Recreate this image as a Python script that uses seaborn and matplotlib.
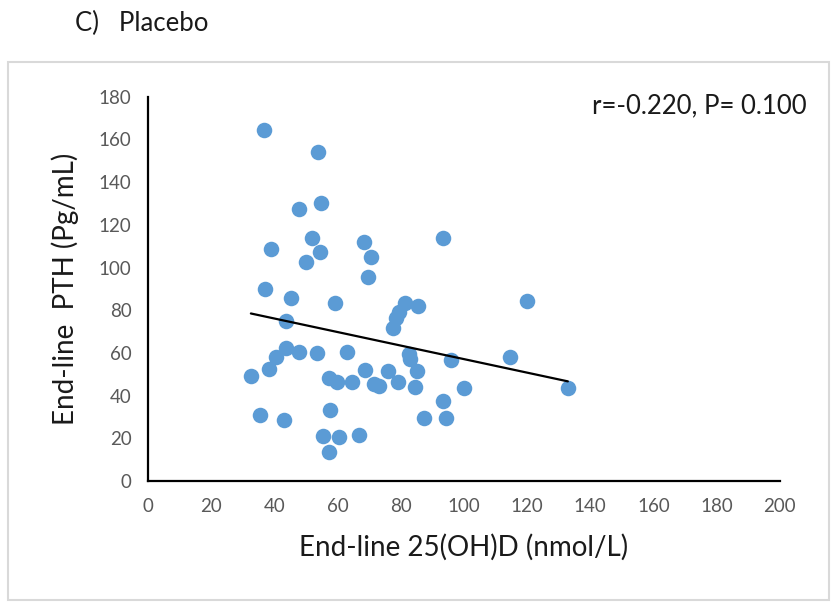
import matplotlib
matplotlib.use("Agg")
import matplotlib.pyplot as plt
import seaborn as sns
import pandas as pd
from matplotlib.patches import Rectangle

# End-line 25(OH)D (nmol/L)
vitd = [36.6, 53.7, 47.6, 54.8, 52.0, 39.0, 54.4, 50.1, 68.3, 70.4,
        69.5, 93.4, 37.0, 45.1, 59.0, 81.3, 85.3, 79.5, 78.4, 77.6,
        119.9, 43.5, 43.5, 40.6, 38.2, 32.5, 47.6, 53.3, 62.9, 82.6,
        83.0, 85.1, 84.5, 68.7, 76.0, 79.0, 71.6, 73.0, 57.2, 59.7,
        64.6, 95.9, 114.6, 99.9, 93.4, 87.2, 94.3, 132.9, 35.3, 43.1,
        57.7, 55.3, 60.5, 66.6, 57.2]
# End-line PTH (Pg/mL)
pth = [164.5, 154.3, 127.3, 130.3, 114.0, 108.7, 107.3, 102.4, 112.0, 104.9,
       95.4, 114.0, 89.9, 85.5, 83.6, 83.2, 82.2, 79.1, 76.5, 71.9,
       84.1, 74.9, 62.5, 57.9, 52.5, 49.0, 60.4, 59.9, 60.5, 59.5,
       57.2, 51.7, 44.1, 52.2, 51.7, 46.5, 45.3, 44.6, 48.4, 46.5,
       46.5, 56.9, 58.1, 43.7, 37.6, 29.7, 29.7, 43.6, 31.0, 28.7,
       33.4, 21.3, 20.8, 21.5, 13.5]

x_ticks = [0, 20, 40, 60, 80, 100, 120, 140, 160, 180, 200]
y_ticks = [0, 20, 40, 60, 80, 100, 120, 140, 160, 180]

title = "C)   Placebo"
x_label = "End-line 25(OH)D (nmol/L)"
y_label = "End-line  PTH (Pg/mL)"
stats_text = "r=-0.220, P= 0.100"

df = pd.DataFrame({"vitd": vitd, "pth": pth})

sns.set_style("white")
plt.rcParams["font.family"] = ["Lato", "DejaVu Sans"]

fig = plt.figure(figsize=(8.33, 6.05), dpi=100)
ax = fig.add_axes([0.178, 0.205, 0.758, 0.635])

sns.regplot(data=df, x="vitd", y="pth", ax=ax, ci=None, truncate=True,
            scatter_kws=dict(s=125, color="#5B9BD5", alpha=1, linewidths=0, zorder=2),
            line_kws=dict(color="black", linewidth=1.6, zorder=3))

ax.set_xlim(0, 200)
ax.set_ylim(0, 180)
ax.set_xticks(x_ticks)
ax.set_yticks(y_ticks)
ax.tick_params(axis="both", length=0, labelsize=13.5, labelcolor="#595959")
ax.tick_params(axis="x", pad=12)
ax.tick_params(axis="y", pad=12)
ax.set_xlabel(x_label, fontsize=20, color="#1a1a1a", labelpad=14)
ax.set_ylabel(y_label, fontsize=20, color="#1a1a1a", labelpad=14)
for side in ["top", "right"]:
    ax.spines[side].set_visible(False)
for side in ["left", "bottom"]:
    ax.spines[side].set_color("black")
    ax.spines[side].set_linewidth(1.6)

ax.text(1.043, 1.01, stats_text, transform=ax.transAxes, ha="right", va="top",
        fontsize=18.5, color="#1a1a1a")

fig.text(0.09, 0.962, title, fontsize=18.5, ha="left", va="center", color="#1a1a1a")

fig.patches.append(Rectangle((0.010, 0.008), 0.985, 0.89, transform=fig.transFigure,
                             fill=False, edgecolor="#D9D9D9", linewidth=1.5))

fig.savefig("out.png", dpi=100)
